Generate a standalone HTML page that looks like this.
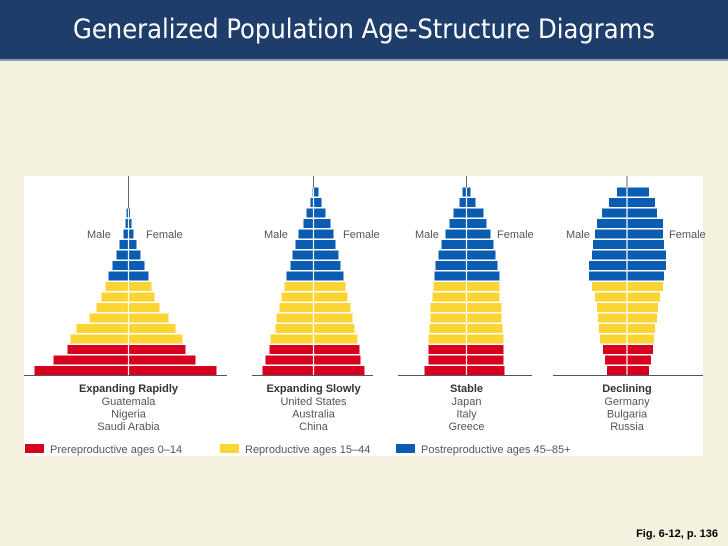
<!DOCTYPE html>
<html><head><meta charset="utf-8"><style>
body{margin:0;width:728px;height:546px;overflow:hidden;background:#f4f1de;font-family:"Liberation Sans",sans-serif;}
#hdr{position:absolute;left:0;top:0;width:728px;height:59px;background:#1f3d6b;border-bottom:2px solid #8a9bb3;}
#hdr div{color:#fff;font-size:27px;text-align:center;line-height:60px;font-family:"DejaVu Sans Condensed","Liberation Sans Narrow","Liberation Sans",sans-serif;}
#fig{position:absolute;right:10px;top:528px;font-size:11px;font-weight:bold;color:#000;}
</style></head><body>
<div id="hdr"><div>Generalized Population Age-Structure Diagrams</div></div>
<svg id="chart" width="728" height="546" style="position:absolute;left:0;top:0">
<rect x="24" y="176" width="679" height="280" fill="#fff"/>
</svg>
<div id="fig">Fig. 6-12, p. 136</div>
<script>
// rows from bottom: 3 prereproductive, 6 reproductive, 9 postreproductive
const ageGroups = ["pre","pre","pre","rep","rep","rep","rep","rep","rep","post","post","post","post","post","post","post","post","post"];
const titles = ["Expanding Rapidly","Expanding Slowly","Stable","Declining"];
const countries = [["Guatemala","Nigeria","Saudi Arabia"],["United States","Australia","China"],["Japan","Italy","Greece"],["Germany","Bulgaria","Russia"]];
const male1 = [94,75,61,58,52,39,32,27,23,20,16,12,9,5,3,2,0,0];
const female1 = [88,67,57,54,47,40,31,26,23,20,16,12,8,5,3,1.5,0,0];
const male2 = [51,48,44,43,38,37,34,32,29,27,23,21,18,15,10,7,3,1];
const female2 = [51,47,46,44,41,39,37,34,32,30,27,25,22,20,17,12,8,5];
const male3 = [42,38,38,38,37,36,36,34,33,32,31,28,25,21,17,13,7,4];
const female3 = [38,37,37,37,36,35,35,33,33,33,31,29,27,24,20,17,9,4];
const male4 = [20,22,24,27,28,29,30,32,35,38,38,35,34,32,30,25,18,10];
const female4 = [22,24,26,27,28,30,31,33,36,37,39,39,37,36,36,30,28,22];
const legendLabels = ["Prereproductive ages 0–14","Reproductive ages 15–44","Postreproductive ages 45–85+"];

const males=[male1,male2,male3,male4], females=[female1,female2,female3,female4];
const colors={pre:"#d7001f",rep:"#fcd535",post:"#0b5db1"};
const centers=[128.5,313.5,466.5,627];
const axisSpans=[[24,227],[252,373],[398,532],[553,703]];
const maleX=[[87,110],[264,287],[415,438],[566,589]];
const femaleX=[146,343,497,669];
const baseY=375, rowH=10.5, barH=9;
const svg=document.getElementById('chart');
const NS="http://www.w3.org/2000/svg";
function mk(t,a){const e=document.createElementNS(NS,t);for(const k in a)e.setAttribute(k,a[k]);svg.appendChild(e);return e;}
function yRow(i){return baseY - (i+1)*rowH + (rowH-barH);}
function txt(x,y,s,opt){const e=mk('text',{x:x,y:y,'font-size':opt.size||11,fill:opt.fill||'#555','text-anchor':opt.anchor||'middle','font-family':'"Liberation Sans",sans-serif','font-weight':opt.bold?'bold':'normal'});e.textContent=s;return e;}
for(let p=0;p<4;p++){
  const c=centers[p];
  const ln=mk('line',{x1:c,y1:176,x2:c,y2:baseY,stroke:'#666','stroke-width':1});
  
  
  let topRow=-1;
  for(let i=0;i<ageGroups.length;i++){
    const m=males[p][i], f=females[p][i];
    if(m>0||f>0) topRow=i;
    if(m>0){const r=mk('rect',{x:c-m,y:yRow(i),width:m,height:barH,fill:colors[ageGroups[i]]});
      
      }
    if(f>0){const r=mk('rect',{x:c,y:yRow(i),width:f,height:barH,fill:colors[ageGroups[i]]});
      
      }
  }
  if(topRow>=0){
    const wl=mk('line',{x1:c,y1:yRow(topRow),x2:c,y2:baseY,stroke:'#fff','stroke-width':1.2});
    
    
  }
  const bl=mk('line',{x1:axisSpans[p][0],y1:baseY+0.5,x2:axisSpans[p][1],y2:baseY+0.5,stroke:'#555','stroke-width':1});
  
  
  const ml=txt(maleX[p][0],238,'Male',{anchor:'start'});
  
  
  const fl=txt(femaleX[p],238,'Female',{anchor:'start'});
  
  
  const t=txt(c,392,titles[p],{bold:true,fill:'#333'});
  
  
  countries[p].forEach((s,k)=>{const e=txt(c,405+k*12.5,s,{});
    
    });
}
const legX=[25,220,396], legKeys=["pre","rep","post"];
for(let k=0;k<3;k++){
  const r=mk('rect',{x:legX[k],y:444,width:19,height:9,fill:colors[legKeys[k]]});
  
  
  const t=txt(legX[k]+25,453,legendLabels[k],{anchor:'start'});
  
  
}
</script>
</body></html>
